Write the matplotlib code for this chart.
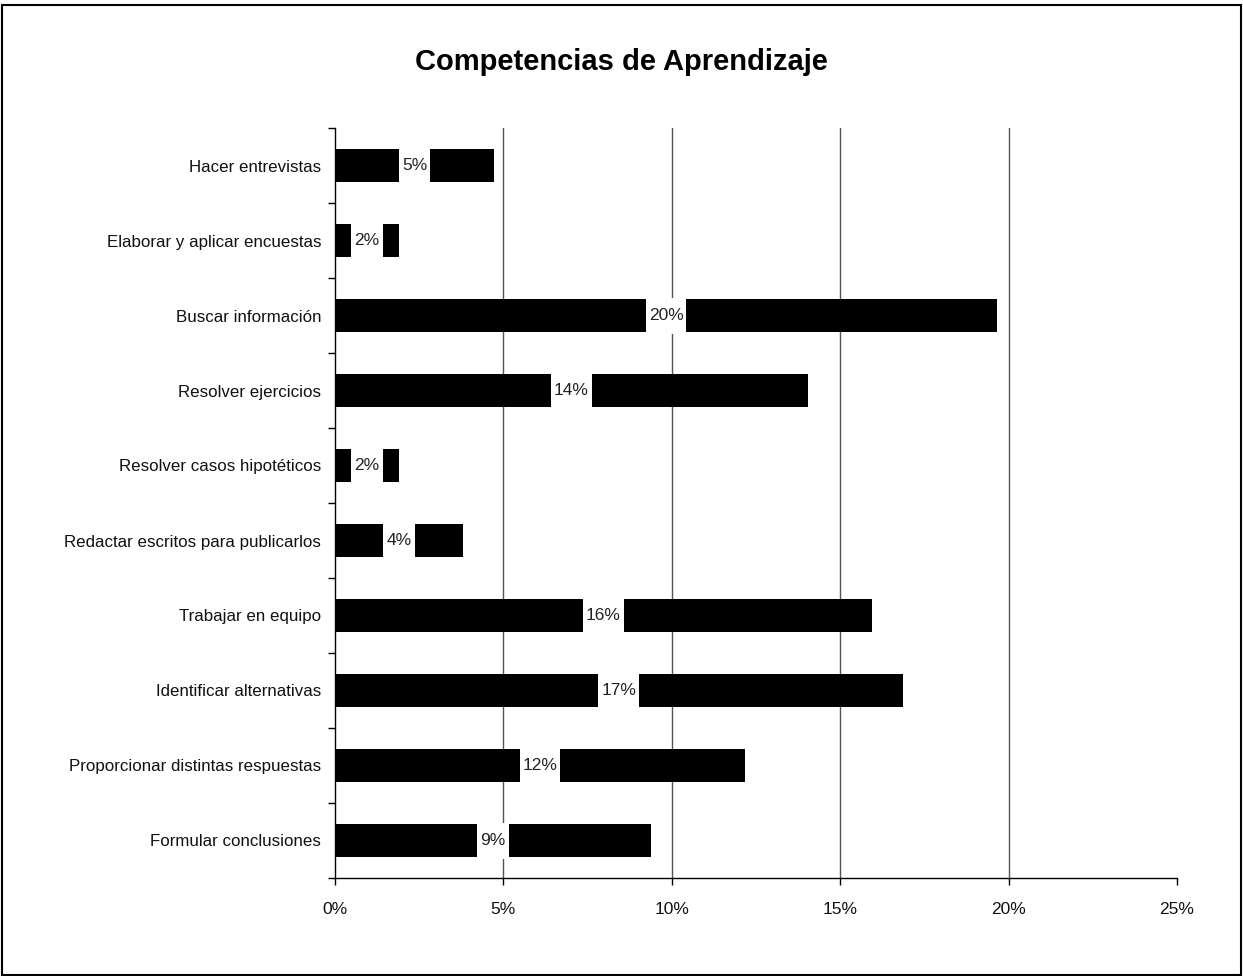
import matplotlib
matplotlib.use("Agg")
import matplotlib.pyplot as plt
from matplotlib.patches import Rectangle
from matplotlib.ticker import FuncFormatter, FixedLocator

categories = ["Hacer entrevistas", "Elaborar y aplicar encuestas", "Buscar información",
              "Resolver ejercicios", "Resolver casos hipotéticos",
              "Redactar escritos para publicarlos", "Trabajar en equipo",
              "Identificar alternativas", "Proporcionar distintas respuestas",
              "Formular conclusiones"]
values = [4.72, 1.90, 19.66, 14.04, 1.90, 3.80, 15.94, 16.86, 12.17, 9.38]
xticks = [0, 5, 10, 15, 20, 25]

font = "Liberation Sans"
bar_h = 0.44

fig = plt.figure(figsize=(12.43, 9.76), dpi=100)
fig.patches.append(Rectangle((0.0015, 0.001), 0.997, 0.9935, transform=fig.transFigure,
                             fill=False, edgecolor="black", linewidth=1.5))
ax = fig.add_axes([335/1243, 1-878/976, (1177-335)/1243, (878-128)/976])

n = len(categories)
ypos = list(range(n))
ax.barh(ypos, values, height=bar_h, color="black", zorder=3)
ax.set_ylim(n - 0.5, -0.5)
ax.set_xlim(0, 25)

texts = []
for y, v in zip(ypos, values):
    t = ax.text(v / 2, y, f"{round(v):d}%", ha="center", va="center", fontsize=12.5,
                family=font, color="#222222", zorder=5)
    texts.append((t, y))

ax.set_yticks(ypos)
ax.set_yticklabels(categories, family=font, fontsize=12.2, color="#111111")
ax.yaxis.set_minor_locator(FixedLocator([i - 0.5 for i in range(n + 1)]))
ax.tick_params(axis="y", which="major", length=0, pad=10)
ax.tick_params(axis="y", which="minor", length=5, width=1, direction="out")

ax.set_xticks(xticks)
ax.xaxis.set_major_formatter(FuncFormatter(lambda x, p: f"{x:.0f}%"))
ax.tick_params(axis="x", length=5, width=1, direction="out", pad=12)
for lab in ax.get_xticklabels():
    lab.set_family(font)
    lab.set_fontsize(12.5)
    lab.set_color("#111111")

for x in xticks[1:-1]:
    ax.axvline(x, color="#555555", linewidth=1, zorder=1)

ax.spines["top"].set_visible(False)
ax.spines["right"].set_visible(False)
ax.spines["left"].set_linewidth(1)
ax.spines["bottom"].set_linewidth(1)

fig.text(0.5, 1 - 62/976, "Competencias de Aprendizaje", ha="center", va="center",
         fontsize=21, fontweight="bold", family=font)

# white gap behind each value label, cut through the full bar height
fig.canvas.draw()
renderer = fig.canvas.get_renderer()
inv = ax.transData.inverted()
for t, y in texts:
    bb = t.get_window_extent(renderer)
    x0 = inv.transform((bb.x0 - 3, 0))[0]
    x1 = inv.transform((bb.x1 + 3, 0))[0]
    ax.add_patch(Rectangle((x0, y - bar_h / 2 - 0.02), x1 - x0, bar_h + 0.04,
                           facecolor="white", edgecolor="none", zorder=4))

fig.savefig("out.png", dpi=100)
